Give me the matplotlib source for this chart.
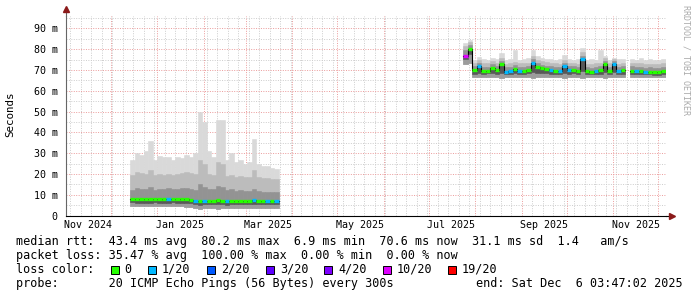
from datetime import datetime
import numpy as np
import matplotlib
matplotlib.use('Agg')
import matplotlib.pyplot as plt
import matplotlib.dates as mdates
from matplotlib.patches import Rectangle
from matplotlib.ticker import MultipleLocator, FuncFormatter, NullFormatter

# ---- data: smoke bins of 3 days, values in ms ----
seg1_start = datetime(2024, 12, 14)
seg1_lo = [4.8, 4.6, 4.7, 4.5, 4.6, 4.7, 4.6, 4.5, 4.6, 4.7, 4.6, 4.5, 4.4, 4.0, 3.5, 3.4, 3.5,
           3.6, 3.5, 3.4, 3.6, 3.5, 3.6, 3.7, 3.6, 3.5, 3.6, 3.5, 3.6, 3.7, 3.6, 3.8, 3.9]
seg1_p25 = [6.4, 6.3, 6.3, 6.2, 6.3, 6.4, 6.3, 6.2, 6.3, 6.4, 6.3, 6.3, 6.1, 5.9, 5.4, 5.3, 5.4,
            5.5, 5.4, 5.5, 5.4, 5.3, 5.4, 5.5, 5.5, 5.4, 5.5, 5.4, 5.5, 5.5, 5.4, 5.5, 5.6]
seg1_med = [8.0, 8.1, 8.0, 8.2, 8.0, 7.9, 7.9, 8.0, 8.1, 8.1, 8.2, 8.1, 7.9, 7.6, 7.0, 7.2, 7.0,
            7.3, 7.1, 7.6, 7.3, 6.9, 7.0, 7.3, 7.2, 7.2, 7.1, 7.4, 7.1, 7.0, 7.1, 7.2, 7.0]
seg1_p75 = [12.5, 13.5, 13.0, 12.8, 14.0, 12.5, 13.0, 12.8, 13.2, 12.6, 12.9, 13.1, 13.5, 13.0,
            12.5, 15.0, 14.0, 12.8, 12.6, 14.5, 14.0, 12.2, 12.6, 12.0, 12.3, 12.0, 11.8, 13.0,
            11.8, 11.5, 11.6, 11.4, 11.2]
seg1_p90 = [19.5, 21.0, 20.5, 20.0, 22.0, 19.5, 20.0, 19.8, 20.2, 19.6, 20.0, 20.4, 21.0, 20.5,
            20.0, 27.0, 25.0, 20.0, 19.5, 26.0, 25.0, 19.0, 19.8, 18.8, 19.2, 18.6, 18.8, 22.0,
            18.5, 18.0, 18.2, 17.8, 17.5]
seg1_hi = [27, 30, 29, 31, 36, 27, 28.5, 28, 28, 27, 28, 27.5, 29, 28, 30, 50, 45, 31, 28, 46,
           46, 27, 30, 26, 27, 25, 26, 37, 25, 24, 24, 23, 22.5]
seg1_loss = [0, 0, 0, 0, 0, 0, 0, 0, 1, 0, 0, 0, 0, 0, 1, 0, 1, 0, 0, 0, 0, 1, 0, 0, 0, 0, 0, 1,
             0, 0, 1, 0, 1]

seg2_start = datetime(2025, 7, 24)
seg2_lo = [73.0, 73.5, 66.8, 66.5, 66.6, 66.8, 66.5, 66.7, 66.4, 66.6, 66.8, 66.5, 66.6, 66.7,
           66.5, 66.3, 66.6, 66.7, 66.8, 66.5, 66.6, 66.7, 66.4, 66.6, 66.8, 66.7, 66.2, 66.6,
           66.8, 66.5, 66.7, 66.4, 66.6, 66.5, 66.7, 66.8]
seg2_p25 = [75.5, 77.5, 68.3, 68.5, 68.2, 68.4, 68.5, 68.3, 68.6, 68.1, 68.3, 68.5, 68.2, 68.3,
            68.4, 69.0, 68.8, 68.5, 68.4, 68.2, 68.3, 68.1, 68.8, 68.3, 68.4, 68.1, 69.5, 68.1,
            68.0, 68.2, 68.3, 69.0, 68.2, 69.0, 68.1, 68.3]
seg2_med = [77.0, 80.2, 70.0, 72.0, 69.5, 69.8, 71.2, 70.0, 73.0, 69.3, 69.8, 70.5, 69.8, 69.8,
            70.0, 73.5, 71.5, 70.8, 70.5, 70.0, 69.8, 69.5, 72.0, 70.0, 70.0, 69.5, 75.5, 69.5,
            69.2, 69.8, 70.0, 73.0, 69.8, 73.0, 69.5, 70.0]
seg2_p75 = [79.5, 82.0, 71.8, 73.5, 71.5, 71.6, 72.8, 71.8, 74.5, 71.3, 71.6, 72.3, 71.6, 71.5,
            71.8, 75.5, 73.2, 72.5, 72.2, 71.8, 71.6, 71.3, 73.6, 71.8, 71.8, 71.3, 77.0, 71.3,
            71.0, 71.6, 71.8, 74.5, 71.6, 74.3, 71.3, 71.8]
seg2_p90 = [81.5, 83.5, 73.5, 75.0, 73.2, 73.3, 74.5, 73.5, 76.0, 73.0, 73.3, 74.0, 73.3, 73.2,
            73.5, 77.0, 75.0, 74.2, 74.0, 73.5, 73.3, 73.0, 75.0, 73.5, 73.5, 73.0, 78.5, 73.0,
            72.8, 73.3, 73.5, 76.0, 73.3, 75.5, 73.0, 73.5]
seg2_hi = [83.0, 84.5, 75.0, 76.5, 75.5, 75.0, 76.0, 75.5, 78.0, 75.0, 75.5, 79.5, 75.0, 75.5,
           75.8, 79.7, 77.0, 76.0, 75.5, 75.5, 75.0, 75.2, 77.3, 75.5, 75.0, 75.5, 80.5, 75.0,
           75.5, 75.0, 79.7, 77.0, 75.0, 75.7, 75.5, 75.3]
seg2_loss = [10, 0, 0, 1, 0, 0, 0, 0, 0, 1, 1, 0, 1, 0, 0, 1, 0, 0, 0, 1, 0, 1, 1, 1, 0, 0, 1,
             0, 0, 1, 0, 0, 0, 1, 1, 0]

# after the short outage in November
seg3_start = datetime(2025, 11, 12)
seg3_lo = [66.8, 66.7, 66.5, 66.6, 66.8, 66.7, 66.6, 66.8]
seg3_p25 = [68.2, 68.0, 68.1, 67.9, 68.0, 67.8, 67.8, 68.1]
seg3_med = [69.8, 69.5, 69.5, 69.2, 69.3, 69.0, 69.0, 69.5]
seg3_p75 = [71.8, 71.5, 71.4, 71.2, 71.3, 71.0, 71.0, 71.5]
seg3_p90 = [73.6, 73.3, 73.2, 73.0, 73.1, 72.8, 72.8, 73.2]
seg3_hi = [75.5, 75.0, 75.6, 75.0, 75.3, 75.0, 74.8, 75.2]
seg3_loss = [0, 1, 0, 1, 0, 0, 0, 0]

loss_levels = [0, 1, 2, 3, 4, 10, 19]
loss_labels = ['0', '1/20', '2/20', '3/20', '4/20', '10/20', '19/20']
loss_colors = ['#26ff00', '#00b8ff', '#0059ff', '#5e00ff', '#7e00ff', '#dd00ff', '#ff0000']

x_labels = ['Nov 2024', 'Jan 2025', 'Mar 2025', 'May 2025', 'Jul 2025', 'Sep 2025', 'Nov 2025']
x_label_dates = [datetime(2024, 11, 16), datetime(2025, 1, 16), datetime(2025, 3, 16),
                 datetime(2025, 5, 16), datetime(2025, 7, 16), datetime(2025, 9, 16),
                 datetime(2025, 11, 16)]

stats_rtt = 'median rtt:  43.4 ms avg  80.2 ms max  6.9 ms min  70.6 ms now  31.1 ms sd  1.4   am/s'
stats_loss = 'packet loss: 35.47 % avg  100.00 % max  0.00 % min  0.00 % now'
probe_text = 'probe:       20 ICMP Echo Pings (56 Bytes) every 300s'
end_text = 'end: Sat Dec  6 03:47:02 2025'

W, H = 697, 297
MONO = 'DejaVu Sans Mono'


def fx(px):
    return px / W


def fy(py):
    return 1 - py / H


def draw_segment(ax, start, lo, p25, med, p75, p90, hi, loss):
    n = len(med)
    left = mdates.date2num(start) + 3 * np.arange(n)
    lo, p25, med = np.array(lo), np.array(p25), np.array(med)
    p75, p90, hi = np.array(p75), np.array(p90), np.array(hi)
    layers = [(lo, hi, '#d9d9d9'), (lo, p90, '#bcbcbc'), (lo, p25, '#9c9c9c'),
              (p25, p75, '#939393'), (p25, med, '#585858')]
    for bottom, top, c in layers:
        ax.bar(left, top - bottom, bottom=bottom, width=3, align='edge',
               color=c, edgecolor=c, linewidth=0.4, zorder=2)
    xs = np.append(left, left[-1] + 3)
    ax.step(xs, np.append(med, med[-1]), where='post', color='black', lw=0.8, zorder=3)
    cmap = dict(zip(loss_levels, loss_colors))
    ax.hlines(med, left, left + 3, colors=[cmap[v] for v in loss], lw=2.4, zorder=4)


fig = plt.figure(figsize=(W / 100, H / 100), dpi=100)
fig.patch.set_facecolor('white')
ax = fig.add_axes([fx(66), fy(215.7), fx(600), 200 / H])

draw_segment(ax, seg1_start, seg1_lo, seg1_p25, seg1_med, seg1_p75, seg1_p90, seg1_hi, seg1_loss)
draw_segment(ax, seg2_start, seg2_lo, seg2_p25, seg2_med, seg2_p75, seg2_p90, seg2_hi, seg2_loss)
draw_segment(ax, seg3_start, seg3_lo, seg3_p25, seg3_med, seg3_p75, seg3_p90, seg3_hi, seg3_loss)

ax.set_xlim(mdates.date2num(datetime(2024, 11, 1)), mdates.date2num(datetime(2025, 12, 6, 3, 47)))
ax.set_ylim(0, 96.15)

ax.xaxis.set_major_locator(mdates.MonthLocator())
ax.xaxis.set_minor_locator(mdates.WeekdayLocator(byweekday=mdates.MO))
ax.xaxis.set_major_formatter(NullFormatter())
ax.yaxis.set_major_locator(MultipleLocator(10))
ax.yaxis.set_minor_locator(MultipleLocator(5))
ax.yaxis.set_major_formatter(FuncFormatter(lambda v, p: '0' if v == 0 else f'{v:.0f} m'))
ax.set_axisbelow(True)
ax.grid(which='minor', color='#cccccc', linestyle=(0, (1, 1.5)), lw=0.7)
ax.grid(which='major', color='#eb9a9a', linestyle=(0, (1, 1.5)), lw=0.7)
ax.tick_params(which='both', length=0)
ax.tick_params(axis='y', pad=6, labelsize=7.2)
for lab in ax.get_yticklabels():
    lab.set_family(MONO)

for d, lab in zip(x_label_dates, x_labels):
    ax.text(mdates.date2num(d), -0.047, lab, transform=ax.get_xaxis_transform(),
            ha='center', va='center', fontsize=7.2, family=MONO)

for s in ['top', 'right']:
    ax.spines[s].set_visible(False)
ax.spines['left'].set_color('#666666')
ax.spines['left'].set_linewidth(0.8)
ax.spines['bottom'].set_color('black')
ax.spines['bottom'].set_linewidth(0.8)
ax.plot([0, 0], [1, 1.03], transform=ax.transAxes, color='#666666', lw=0.8, clip_on=False)
ax.plot([1, 1.008], [0, 0], transform=ax.transAxes, color='black', lw=0.8, clip_on=False)
ax.plot([0], [1.033], marker='^', ms=4, color='#8b1a1a', transform=ax.transAxes, clip_on=False)
ax.plot([1.01], [0], marker='>', ms=4, color='#8b1a1a', transform=ax.transAxes, clip_on=False)

fig.text(fx(10.7), fy(114.5), 'Seconds', rotation=90, ha='center', va='center',
         fontsize=7.8, family=MONO)
fig.text(fx(686), fy(60), 'RRDTOOL / TOBI OETIKER', rotation=270, ha='center', va='center',
         fontsize=6, family=MONO, color='#aaaaaa')

fs = 8.5
fig.text(fx(16.5), fy(241.5), stats_rtt, ha='left', va='center', fontsize=fs, family=MONO)
fig.text(fx(16.5), fy(255.5), stats_loss, ha='left', va='center', fontsize=fs, family=MONO)
fig.text(fx(16.5), fy(269.5), 'loss color:', ha='left', va='center', fontsize=fs, family=MONO)
fig.text(fx(16.5), fy(283.5), probe_text, ha='left', va='center', fontsize=fs, family=MONO)
fig.text(fx(683), fy(283.5), end_text, ha='right', va='center', fontsize=fs, family=MONO)

box_x = [110.5, 148, 207, 266, 324, 383, 448]
text_x = [124.5, 162, 221, 280, 338.5, 396.5, 461.5]
for bx, tx, c, lab in zip(box_x, text_x, loss_colors, loss_labels):
    fig.add_artist(Rectangle((fx(bx), fy(273.5)), fx(8), 8 / H, facecolor=c,
                             edgecolor='black', lw=0.7, transform=fig.transFigure))
    fig.text(fx(tx), fy(269.5), lab, ha='left', va='center', fontsize=fs, family=MONO)

fig.savefig('out.png', dpi=100)
